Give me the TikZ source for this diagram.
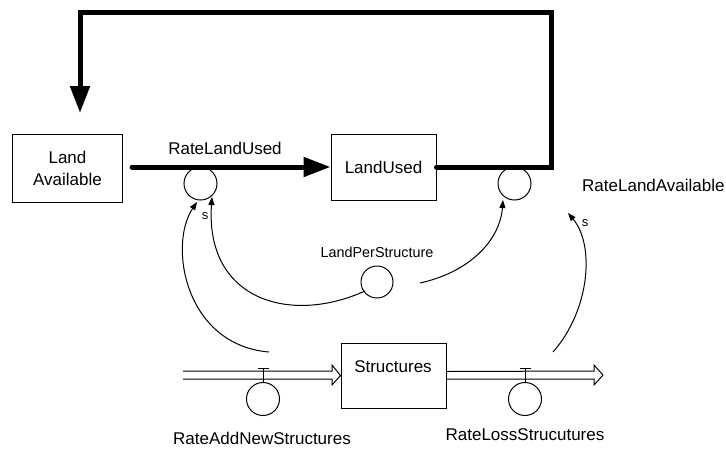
\documentclass[tikz,border=0pt]{standalone}
\usepackage{fontspec}
\setmainfont{Liberation Sans}
\usetikzlibrary{arrows.meta}
\begin{document}
\begin{tikzpicture}[x=1pt,y=-1pt,
  lbl/.style={font=\fontsize{17}{20}\selectfont, inner sep=0pt},
  smalllbl/.style={font=\fontsize{14.4}{17}\selectfont, inner sep=0pt},
  slbl/.style={font=\fontsize{13}{15}\selectfont, inner sep=0pt},
  stock/.style={draw, line width=1pt, inner sep=0pt, align=center, font=\fontsize{17}{22}\selectfont},
  aux/.style={draw, circle, line width=1pt, minimum size=33pt, inner sep=0pt},
  thickflow/.style={line width=5pt, line cap=round},
  bigtip/.style={-{Triangle[length=27pt,width=19pt]}},
  link/.style={line width=1pt, -{Triangle[length=8pt,width=6pt]}},
  thin/.style={line width=1pt},
]
\useasboundingbox (0,0) rectangle (726,456);

% stocks
\node[stock, minimum width=110pt, minimum height=68pt] (la) at (67.5,168) {Land\\Available};
\node[stock, minimum width=105pt, minimum height=66pt] (lu) at (383.5,167) {LandUsed};
\node[stock, minimum width=105pt, minimum height=65pt] (st) at (393.5,375.5) {};
\node[lbl] (stl) at (393,367) {Structures};

% auxiliaries / rates
\node[aux] (rlu) at (200.5,183.5) {};
\node[aux] (rla) at (514.5,183.5) {};
\node[aux, minimum size=32pt] (lps) at (377,282) {};
\node[aux, minimum size=33pt] (ran) at (263,399) {};
\node[aux, minimum size=33pt] (rls) at (525,399) {};

% labels
\node[lbl] (rlul) at (225,148) {RateLandUsed};
\node[lbl, anchor=west] (rlal) at (582,185) {RateLandAvailable};
\node[smalllbl] (lpsl) at (377,252) {LandPerStructure};
\node[lbl] (ranl) at (262,438) {RateAddNewStructures};
\node[lbl] (rlsl) at (525,435) {RateLossStrucutures};
\node[slbl] (s1) at (205,216) {s};
\node[slbl] (s2) at (585,223) {s};

% thick flows
\coordinate (flowstart) at (132,167);
\coordinate (loopin) at (80,113);
\draw[thickflow, bigtip] (flowstart) -- (lu.west);
\draw[thickflow, bigtip] (lu.east) -- (551,167) -- (551,12) -- (80,12) -- (loopin);

% structures flows (double pipes)
\coordinate (inS) at (183,375);
\coordinate (outE) at (603,375);
\draw[thin] (inS) ++(0,-4) -- (332,371) -- (332,365) -- (st.west) -- (332,385) -- (332,379) -- (183,379);
\draw[thin] (st.east) ++(0,-4) -- (594,371) -- (594,365) -- (outE) -- (594,385) -- (594,379) -- (446,379);

% valves
\draw[thin] (258,368) -- (269,368);
\draw[thin] (263,368) -- (ran.north);
\draw[thin] (519.5,368) -- (530.5,368);
\draw[thin] (525,368) -- (rls.north);

% information links
\coordinate (aS) at (269,352);
\coordinate (aE) at (197,202);
\draw[link] (aS) .. controls (185,345) and (168,245) .. (aE);
\coordinate (bS) at (365,291);
\coordinate (bE) at (212,197);
\draw[link] (bS) .. controls (290,325) and (205,300) .. (bE);
\coordinate (cS) at (420,283);
\coordinate (cE) at (503,200);
\draw[link] (cS) .. controls (470,272) and (500,240) .. (cE);
\coordinate (dS) at (553,352);
\coordinate (dE) at (568,213);
\draw[link] (dS) .. controls (590,310) and (595,245) .. (dE);
\end{tikzpicture}
\end{document}
